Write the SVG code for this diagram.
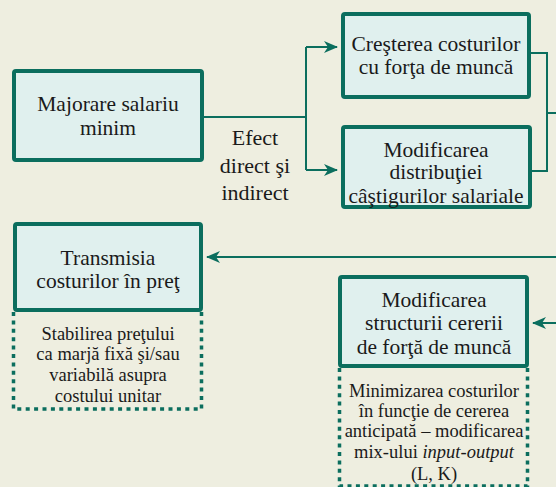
<svg xmlns="http://www.w3.org/2000/svg" width="556" height="487" viewBox="0 0 556 487">
<style>
.bg{fill:#EEEEE0}
.box{fill:#E0F0EE;stroke:#0B6E5E;stroke-width:4}
.dot{fill:none;stroke:#0B6E5E;stroke-width:3.5;stroke-dasharray:4 4.4}
.ln{fill:none;stroke:#0B6E5E;stroke-width:2}
.t{fill:#1a1a1a;text-anchor:middle}
</style>
<defs>
<marker id="arr" markerUnits="userSpaceOnUse" markerWidth="14" markerHeight="12" viewBox="0 0 14 12" refX="13" refY="6" orient="auto">
<path d="M0,0 L14,6 L0,12 L4,6 Z" fill="#0B6E5E"/>
</marker>
</defs>
<rect class="bg" x="0" y="0" width="556" height="487"/>
<g id="connectors">
<path class="ln" d="M204,117 H306"/>
<path class="ln" d="M306,47 V170"/>
<path class="ln" d="M306,47 H337" marker-end="url(#arr)"/>
<path class="ln" d="M306,170 H337" marker-end="url(#arr)"/>
<path class="ln" d="M531,53 H547 V171 H531"/>
<path class="ln" d="M547,113 H556"/>
<path class="ln" d="M556,257 H207" marker-end="url(#arr)"/>
<path class="ln" d="M556,323 H533" marker-end="url(#arr)"/>
<g id="label-efect">
<text class="t" font-family="Liberation Serif" font-size="22" x="255" y="145">Efect</text>
<text class="t" font-family="Liberation Serif" font-size="22" x="255" y="173">direct şi</text>
<text class="t" font-family="Liberation Serif" font-size="22" x="255" y="200">indirect</text>
</g>
</g>
<g id="majorare">
<rect class="box" x="14" y="71" width="188" height="89" rx="2"/>
<text class="t" font-family="Liberation Serif" font-size="21.5" x="108" y="111">Majorare salariu</text>
<text class="t" font-family="Liberation Serif" font-size="21.5" x="108" y="135">minim</text>
</g>
<g id="crestere">
<rect class="box" x="343" y="14" width="186" height="83" rx="2"/>
<text class="t" font-family="Liberation Serif" font-size="21.5" x="436" y="50.5">Creşterea costurilor</text>
<text class="t" font-family="Liberation Serif" font-size="21.5" x="436" y="74">cu forţa de muncă</text>
</g>
<g id="distributie">
<rect class="box" x="343" y="127" width="187" height="80" rx="2"/>
<text class="t" font-family="Liberation Serif" font-size="21.5" x="436" y="156.5">Modificarea</text>
<text class="t" font-family="Liberation Serif" font-size="21.5" x="436" y="179">distribuţiei</text>
<text class="t" font-family="Liberation Serif" font-size="21.5" x="436" y="203">câştigurilor salariale</text>
</g>
<g id="transmisia">
<path class="dot" d="M13.5,312 V409 H201.5 V312"/>
<rect class="box" x="15" y="224" width="186" height="86" rx="2"/>
<text class="t" font-family="Liberation Serif" font-size="21.5" x="108" y="265">Transmisia</text>
<text class="t" font-family="Liberation Serif" font-size="21.5" x="108" y="288">costurilor în preţ</text>
<text class="t" font-family="Liberation Serif" font-size="18.5" x="108" y="339.5">Stabilirea preţului</text>
<text class="t" font-family="Liberation Serif" font-size="18.5" x="108" y="360">ca marjă fixă şi/sau</text>
<text class="t" font-family="Liberation Serif" font-size="18.5" x="108" y="380.5">variabilă asupra</text>
<text class="t" font-family="Liberation Serif" font-size="18.5" x="108" y="401.5">costului unitar</text>
</g>
<g id="structura">
<path class="dot" d="M339.5,368 V486 H527.5 V368"/>
<rect class="box" x="340" y="277" width="187" height="89" rx="2"/>
<text class="t" font-family="Liberation Serif" font-size="21.5" x="434" y="306.5">Modificarea</text>
<text class="t" font-family="Liberation Serif" font-size="21.5" x="434" y="330">structurii cererii</text>
<text class="t" font-family="Liberation Serif" font-size="21.5" x="434" y="354">de forţă de muncă</text>
<text class="t" font-family="Liberation Serif" font-size="18.5" x="434" y="396.5">Minimizarea costurilor</text>
<text class="t" font-family="Liberation Serif" font-size="18.5" x="434" y="416.5">în funcţie de cererea</text>
<text class="t" font-family="Liberation Serif" font-size="18.5" x="434" y="437">anticipată – modificarea</text>
<text class="t" font-family="Liberation Serif" font-size="18.5" x="434" y="458">mix-ului <tspan font-style="italic">input-output</tspan></text>
<text class="t" font-family="Liberation Serif" font-size="18.5" x="434" y="480">(L, K)</text>
</g>
</svg>
